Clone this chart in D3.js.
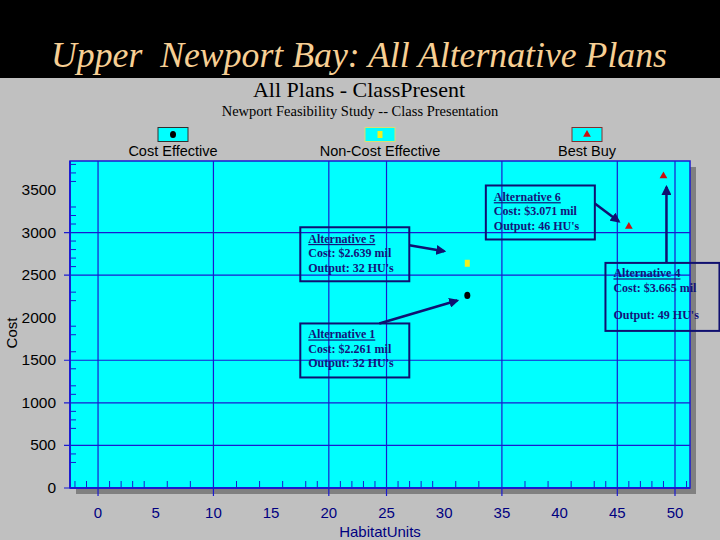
<!DOCTYPE html>
<html><head><meta charset="utf-8">
<script src="https://cdn.jsdelivr.net/npm/d3@7"></script>
<style>
html,body{margin:0;padding:0;background:#c0c0c0;}
svg{display:block;}
text{white-space:pre;}
</style>
</head><body>
<svg id="chart" width="720" height="540"></svg>
<script>
// ---------- DATA ----------
const alternatives = ["Alternative 1", "Alternative 5", "Alternative 6", "Alternative 4"];
const habitatUnits = [32, 32, 46, 49];
const costs = [2261, 2639, 3071, 3665];            // thousands $
const planClass = ["Cost Effective", "Non-Cost Effective", "Best Buy", "Best Buy"];
const costLabels = ["Cost: $2.261 mil", "Cost: $2.639 mil", "Cost: $3.071 mil", "Cost: $3.665 mil"];
const outputLabels = ["Output: 32 HU's", "Output: 32 HU's", "Output: 46 HU's", "Output: 49 HU's"];
const legendCategories = ["Cost Effective", "Non-Cost Effective", "Best Buy"];
const xTickLabels = [0, 5, 10, 15, 20, 25, 30, 35, 40, 45, 50];
const xGridValues = [0, 10, 20, 25, 35, 45, 50];
const xMinorTicks = [-2, -1, 1, 2, 3, 4, 6, 8, 12, 14, 16, 18, 19, 21, 22, 23, 24, 26, 27, 28, 29, 31, 33, 37, 39, 41, 43, 44, 46, 47, 48, 49, 51];
const yTickLabels = [0, 500, 1000, 1500, 2000, 2500, 3000, 3500];
const yGridValues = [0, 500, 1000, 1500, 2500, 3000];
const yMinorTicks = [300, 400, 700, 800, 900, 1100, 1200, 1400, 1600, 1800, 1900, 2200, 2300, 2600, 2700, 2800, 2900, 3100, 3200, 3300, 3600, 3700, 3800];

// ---------- LAYOUT / STYLE ----------
const svg = d3.select("#chart");
const W = 720, H = 540;
const plot = {left: 70, right: 690, top: 161, bottom: 488};
const navy = "#000080", grid = "#1a1ad0", cyan = "#00ffff";
const sans = "'Liberation Sans', Arial, sans-serif";
const serif = "'Liberation Serif', 'Times New Roman', serif";

const x = d3.scaleLinear().domain([-2.43, 51.3]).range([plot.left, plot.right]);
const y = d3.scaleLinear().domain([0, 3840]).range([plot.bottom, plot.top]);

svg.append("rect").attr("width", W).attr("height", H).attr("fill", "#c0c0c0");
svg.append("rect").attr("width", W).attr("height", 78).attr("fill", "#000");

svg.append("text").attr("x", 359).attr("y", 67).attr("text-anchor", "middle")
  .attr("font-family", serif).attr("font-style", "italic").attr("font-size", 36)
  .attr("textLength", 616).attr("lengthAdjust", "spacingAndGlyphs")
  .attr("fill", "#f7cf94").text("Upper  Newport Bay: All Alternative Plans");

svg.append("text").attr("x", 359).attr("y", 97).attr("text-anchor", "middle")
  .attr("font-family", serif).attr("font-size", 22).attr("fill", "#000")
  .text("All Plans - ClassPresent");
svg.append("text").attr("x", 360).attr("y", 116).attr("text-anchor", "middle")
  .attr("font-family", serif).attr("font-size", 14.5).attr("fill", "#000")
  .text("Newport Feasibility Study -- Class Presentation");

// markers
function drawMarker(g, cls, cx, cy) {
  if (cls === "Cost Effective") {
    g.append("ellipse").attr("cx", cx).attr("cy", cy).attr("rx", 3).attr("ry", 3.6).attr("fill", "#000");
  } else if (cls === "Non-Cost Effective") {
    g.append("rect").attr("x", cx - 2.5).attr("y", cy - 3.5).attr("width", 5).attr("height", 7).attr("fill", "#f0f020");
  } else {
    g.append("path").attr("d", d3.symbol(d3.symbolTriangle, 26)()).attr("transform", `translate(${cx},${cy})`).attr("fill", "#cc1010");
  }
}

// legend
const legendX = d3.scalePoint().domain(legendCategories).range([173, 587]);
const legendBorder = {"Cost Effective": "#303030", "Non-Cost Effective": "#d8e070", "Best Buy": "#803030"};
legendCategories.forEach(c => {
  const cx = legendX(c);
  const g = svg.append("g");
  g.append("rect").attr("x", cx - 15).attr("y", 127.5).attr("width", 30).attr("height", 14)
    .attr("fill", cyan).attr("stroke", legendBorder[c]).attr("stroke-width", 1);
  drawMarker(g, c, cx, 134.5);
  g.append("text").attr("x", cx).attr("y", 156).attr("text-anchor", "middle")
    .attr("font-family", sans).attr("font-size", 14.5).attr("fill", "#000").text(c);
});

// shadow + plot area
svg.append("rect").attr("x", plot.left + 6).attr("y", plot.top + 6)
  .attr("width", plot.right - plot.left).attr("height", plot.bottom - plot.top).attr("fill", "#808080");
svg.append("rect").attr("x", plot.left).attr("y", plot.top)
  .attr("width", plot.right - plot.left).attr("height", plot.bottom - plot.top)
  .attr("fill", cyan).attr("stroke", grid).attr("stroke-width", 1.5);

// gridlines
svg.append("g").selectAll("line").data(xGridValues).join("line")
  .attr("x1", d => x(d)).attr("x2", d => x(d)).attr("y1", plot.top).attr("y2", plot.bottom + 8)
  .attr("stroke", grid).attr("stroke-width", 1.2);
svg.append("g").selectAll("line").data(yGridValues).join("line")
  .attr("y1", d => y(d)).attr("y2", d => y(d)).attr("x1", plot.left - 6).attr("x2", plot.right)
  .attr("stroke", grid).attr("stroke-width", 1.2);

// minor ticks
svg.append("g").selectAll("line").data(xMinorTicks).join("line")
  .attr("x1", d => x(d)).attr("x2", d => x(d)).attr("y1", plot.bottom).attr("y2", plot.bottom - 7)
  .attr("stroke", grid).attr("stroke-width", 1);
svg.append("g").selectAll("line").data(yMinorTicks).join("line")
  .attr("y1", d => y(d)).attr("y2", d => y(d)).attr("x1", plot.left).attr("x2", plot.left + 6)
  .attr("stroke", grid).attr("stroke-width", 1);

// axis lines
svg.append("line").attr("x1", plot.left).attr("x2", plot.left).attr("y1", plot.top).attr("y2", plot.bottom)
  .attr("stroke", grid).attr("stroke-width", 1.8);
svg.append("line").attr("x1", plot.left).attr("x2", plot.right).attr("y1", plot.bottom).attr("y2", plot.bottom)
  .attr("stroke", grid).attr("stroke-width", 1.8);

// tick labels
svg.append("g").selectAll("text").data(xTickLabels).join("text")
  .attr("x", d => x(d)).attr("y", 518).attr("text-anchor", "middle")
  .attr("font-family", sans).attr("font-size", 15).attr("fill", navy).text(d => d);
svg.append("g").selectAll("text").data(yTickLabels).join("text")
  .attr("x", 56).attr("y", d => y(d) + 5).attr("text-anchor", "end")
  .attr("font-family", sans).attr("font-size", 15.5).attr("fill", "#000").text(d => d);

svg.append("text").attr("transform", "translate(17,333) rotate(-90)").attr("text-anchor", "middle")
  .attr("font-family", sans).attr("font-size", 15).attr("fill", "#000").text("Cost");
svg.append("text").attr("x", 380).attr("y", 537).attr("text-anchor", "middle")
  .attr("font-family", sans).attr("font-size", 15).attr("fill", navy).text("HabitatUnits");

// points
const pts = svg.append("g");
alternatives.forEach((a, i) => drawMarker(pts, planClass[i], x(habitatUnits[i]), y(costs[i])));

// annotations (box offsets relative to each point, in pixels)
const annLayout = [
  {bx: -167, by: 28, bw: 109, bh: 54, lines: [15, 29.5, 44], from: [-88, 28], to: [-10, 5]},
  {bx: -167, by: -36, bw: 109, bh: 54, lines: [15.7, 30, 44.7], from: [-58, -18], to: [-23, -12]},
  {bx: -143, by: -41, bw: 109, bh: 54, lines: [15.7, 30, 44.3], from: [-34, -23], to: [-10, -5]},
  {bx: -58, by: 87, bw: 114, bh: 68, lines: [14.5, 29, 56], from: [3, 87], to: [3, 11]}
];
const defs = svg.append("defs");
defs.append("marker").attr("id", "arr").attr("viewBox", "0 0 10 10").attr("refX", 8).attr("refY", 5)
  .attr("markerWidth", 4).attr("markerHeight", 4).attr("orient", "auto")
  .append("path").attr("d", "M0,0 L10,5 L0,10 Z").attr("fill", "#101070");

const ann = svg.append("g");
alternatives.forEach((a, i) => {
  const px = x(habitatUnits[i]), py = y(costs[i]), L = annLayout[i];
  const bx = px + L.bx, by = py + L.by;
  ann.append("rect").attr("x", bx).attr("y", by).attr("width", L.bw).attr("height", L.bh)
    .attr("fill", "none").attr("stroke", "#101070").attr("stroke-width", 2);
  const txt = [a, costLabels[i], outputLabels[i]];
  txt.forEach((t, k) => {
    ann.append("text").attr("x", bx + 8).attr("y", by + L.lines[k])
      .attr("font-family", serif).attr("font-weight", "bold").attr("font-size", 12)
      .attr("fill", "#14147a").attr("text-decoration", k === 0 ? "underline" : null).text(t);
  });
  ann.append("line").attr("x1", px + L.from[0]).attr("y1", py + L.from[1])
    .attr("x2", px + L.to[0]).attr("y2", py + L.to[1])
    .attr("stroke", "#101070").attr("stroke-width", 2.5).attr("marker-end", "url(#arr)");
});
</script>
</body></html>
